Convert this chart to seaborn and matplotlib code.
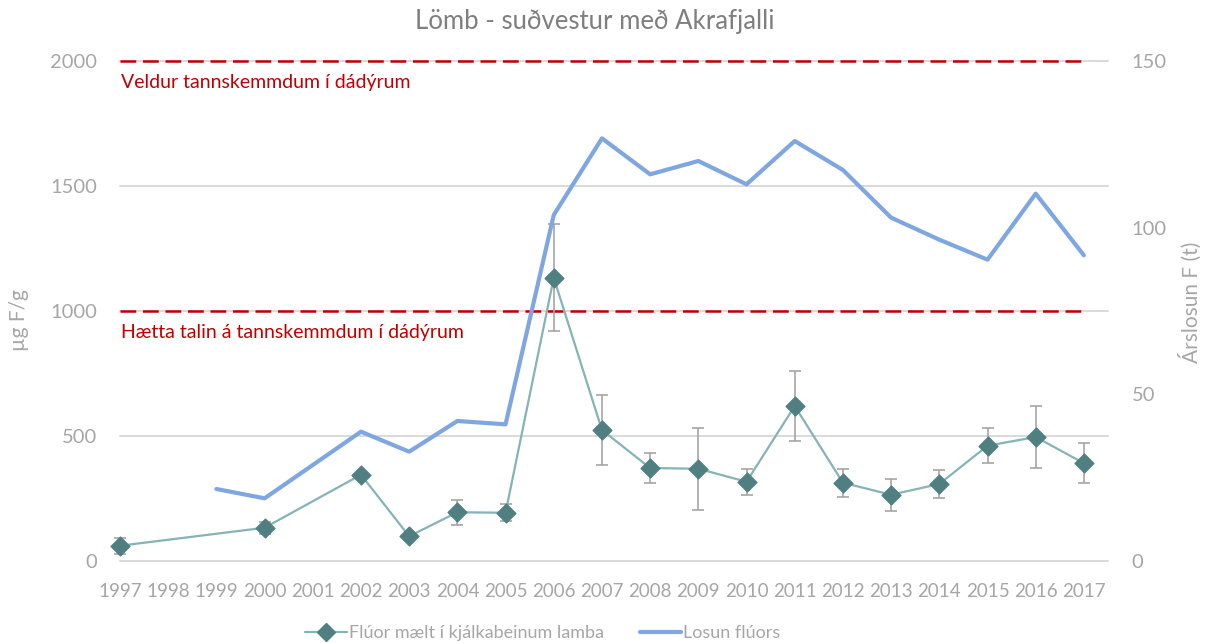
import numpy as np
import pandas as pd
import matplotlib
matplotlib.use("Agg")
import matplotlib.pyplot as plt
from matplotlib.lines import Line2D
import seaborn as sns

# Fluoride measured in lamb jawbones (µg F/g) with error margins
fluor_years = [1997, 2000, 2002, 2003, 2004, 2005, 2006, 2007, 2008, 2009,
               2010, 2011, 2012, 2013, 2014, 2015, 2016, 2017]
fluor_values = [61, 133, 345, 99, 195, 193, 1133, 524, 372, 369,
                317, 620, 313, 265, 308, 461, 496, 391]
fluor_err = [32, 25, 0, 0, 51, 34, 214, 139, 60, 163,
             51, 139, 56, 64, 57, 70, 125, 80]

# Annual fluoride emissions (tonnes)
emission_years = [1999, 2000, 2002, 2003, 2004, 2005, 2006, 2007, 2008, 2009,
                  2010, 2011, 2012, 2013, 2014, 2015, 2016, 2017]
emission_values = [21.6, 18.8, 38.8, 32.8, 42.0, 41.0, 103.8, 126.8, 116.0, 120.0,
                   113.0, 126.0, 117.3, 103.0, 96.4, 90.4, 110.2, 91.7]

all_years = list(range(1997, 2018))
left_ticks = [0, 500, 1000, 1500, 2000]
right_ticks = [0, 50, 100, 150]
thresholds = [2000, 1000]
threshold_labels = ["Veldur tannskemmdum í dádýrum", "Hætta talin á tannskemmdum í dádýrum"]

title = "Lömb - suðvestur með Akrafjalli"
left_label = "µg F/g"
right_label = "Árslosun F (t)"
fluor_name = "Flúor mælt í kjálkabeinum lamba"
emission_name = "Losun flúors"

sns.set_theme(style="white")
plt.rcParams["font.family"] = ["Lato", "DejaVu Sans"]

TICK = "#A6A6A6"
GRID = "#D9D9D9"
RED = "#C00000"
TEAL_LINE = "#84B4B5"
TEAL_MARK = "#4F7F81"
BLUE = "#7EA6E0"

W, H = 1207, 643
fig = plt.figure(figsize=(W / 100, H / 100), dpi=100)
ax = fig.add_axes([120 / W, 1 - 561 / H, 988 / W, 500 / H])
ax2 = ax.twinx()

fluor_df = pd.DataFrame({"year": fluor_years, "value": fluor_values, "err": fluor_err})
emis_df = pd.DataFrame({"year": emission_years, "value": emission_values})

# gridlines
for t in left_ticks:
    ax.axhline(t, color=GRID, lw=1.4, zorder=0, clip_on=False)

# threshold lines with their captions
for t, lab in zip(thresholds, threshold_labels):
    ax.plot([1997, 2017], [t, t], color=RED, lw=1.8, dashes=(6.3, 2.7),
            zorder=2, clip_on=False)
    ax.text(1997.02, t - 86, lab, color=RED, fontsize=14, va="center", ha="left")

# error bars
eb = fluor_df[fluor_df["err"] > 0]
ax.errorbar(eb["year"], eb["value"], yerr=eb["err"], fmt="none", ecolor="#A5A5A5",
            elinewidth=1.2, capsize=4.5, capthick=1.2, zorder=3, clip_on=False)

sns.lineplot(data=fluor_df, x="year", y="value", ax=ax, color=TEAL_LINE, lw=1.6,
             zorder=4, legend=False)
sns.scatterplot(data=fluor_df, x="year", y="value", ax=ax, marker="D", s=95,
                color=TEAL_MARK, edgecolor=TEAL_MARK, zorder=5, legend=False,
                clip_on=False)

sns.lineplot(data=emis_df, x="year", y="value", ax=ax2, color=BLUE, lw=3,
             legend=False)

ax.set_xlim(1997, 2017.5)
ax.set_ylim(0, 2000)
ax2.set_ylim(0, 150)
ax.set_xticks(all_years)
ax.set_xticklabels([str(y) for y in all_years])
ax.set_yticks(left_ticks)
ax2.set_yticks(right_ticks)

for a in (ax, ax2):
    for s in a.spines.values():
        s.set_visible(False)
    a.tick_params(length=0, colors=TICK)
    a.grid(False)
    a.set_xlabel("")
    a.set_ylabel("")
ax.tick_params(axis="y", pad=16.5, labelsize=14.5)
ax.tick_params(axis="x", pad=16, labelsize=13.5)
ax2.tick_params(axis="y", pad=17, labelsize=14.5)

# axis titles
fig.text(19 / W, 1 - 320 / H, left_label, color=TICK, fontsize=15,
         rotation=90, ha="center", va="center")
fig.text(1190 / W, 1 - 302 / H, right_label, color=TICK, fontsize=15,
         rotation=90, ha="center", va="center")

fig.text(595 / W, 1 - 22 / H, title, color="#7F7F7F", fontsize=18.5,
         ha="center", va="center")

handles = [
    Line2D([], [], color=TEAL_LINE, lw=1.6, marker="D", markersize=9,
           markerfacecolor=TEAL_MARK, markeredgecolor=TEAL_MARK),
    Line2D([], [], color=BLUE, lw=3),
]
leg = fig.legend(handles, [fluor_name, emission_name], loc="center",
                 bbox_to_anchor=(543 / W, 1 - 633 / H), ncol=2, frameon=False,
                 fontsize=13, handlelength=2.3, handletextpad=0.1, columnspacing=2.0)
for t in leg.get_texts():
    t.set_color(TICK)

fig.savefig("out.png", dpi=100)
